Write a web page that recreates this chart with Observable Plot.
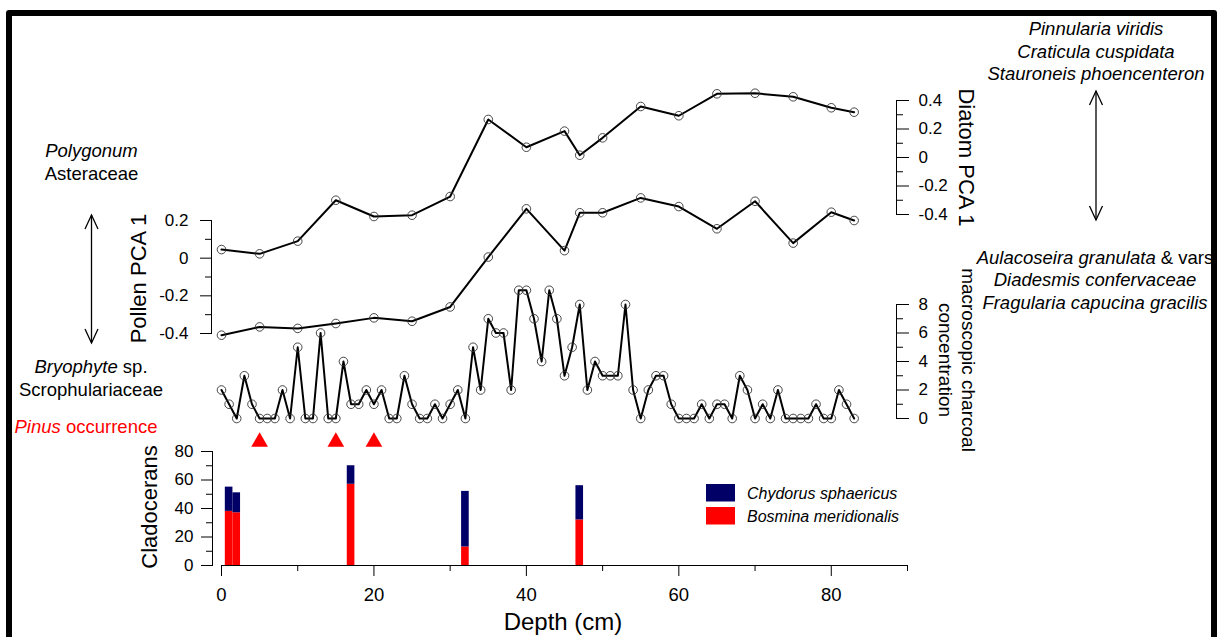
<!DOCTYPE html>
<html>
<head>
<meta charset="utf-8">
<script src="https://cdn.jsdelivr.net/npm/d3@7"></script>
<script src="https://cdn.jsdelivr.net/npm/@observablehq/plot@0.6"></script>
<style>
  html, body { margin: 0; padding: 0; background: #fff; overflow: hidden; }
  #fig { position: relative; width: 1221px; height: 637px; overflow: hidden; background: #fff;
         font-family: "Liberation Sans", Arial, sans-serif; }
  #fig > svg { position: absolute; left: 0; top: 0; max-width: none !important; }
  #border { position: absolute; left: 6px; top: 10px; width: 1211px; height: 700px;
            border: 6px solid #000; border-radius: 3px; box-sizing: border-box; }
</style>
</head>
<body>
<div id="fig"><div id="border"></div></div>
<script>
// ---------------- data ----------------
const pcaDepth   = [0, 5, 10, 15, 20, 25, 30, 35, 40, 45, 47, 50, 55, 60, 65, 70, 75, 80, 83];
const diatomPCA1 = [-0.646, -0.676, -0.587, -0.30, -0.414, -0.405, -0.274, 0.267, 0.072, 0.185, 0.016, 0.138, 0.358, 0.293, 0.447, 0.451, 0.426, 0.349, 0.318];
const pollenPCA1 = [-0.409, -0.365, -0.373, -0.347, -0.317, -0.335, -0.259, 0.006, 0.262, 0.040, 0.241, 0.241, 0.320, 0.274, 0.156, 0.302, 0.080, 0.244, 0.200];

const charcoalDepth = [0,1,2,3,4,5,6,7,8,9,10,11,12,13,14,15,16,17,18,19,20,21,22,23,24,25,26,27,28,29,30,31,32,33,34,35,36,37,38,39,40,41,42,43,44,45,46,47,48,49,50,51,52,53,54,55,56,57,58,59,60,61,62,63,64,65,66,67,68,69,70,71,72,73,74,75,76,77,78,79,80,81,82,83];
const charcoalConc  = [2,1,0,3,1,0,0,0,2,0,5,0,0,6,0,0,4,1,1,2,1,2,0,0,3,1,0,0,1,0,1,2,0,5,2,7,6,6,2,9,9,7,4,9,7,3,5,8,2,4,3,3,3,8,2,0,2,3,3,1,0,0,0,1,0,1,1,0,3,2,0,1,0,2,0,0,0,0,1,0,0,2,1,0];

const cladDepth  = [1, 2, 17, 32, 47];
const bosmina    = [38, 37, 57, 13, 32];   // Bosmina meridionalis
const chydorus   = [17, 14, 13, 39, 24];   // Chydorus sphaericus
const taxa       = ["Chydorus sphaericus", "Bosmina meridionalis"];
const taxaColors = ["#000066", "#ff0000"];

const pinusDepth = [5, 15, 20];

const xTicks          = [0, 20, 40, 60, 80];
const xMinorTicks     = [10, 30, 50, 70, 90];
const pollenTicks     = [-0.4, -0.2, 0, 0.2];
const pollenMinor     = [-0.3, -0.1, 0.1];
const diatomTicks     = [-0.4, -0.2, 0, 0.2, 0.4];
const diatomMinor     = [-0.3, -0.1, 0.1, 0.3];
const charcoalTicks   = [0, 2, 4, 6, 8];
const charcoalMinor   = [1, 3, 5, 7];
const cladTicks       = [0, 20, 40, 60, 80];
const cladMinor       = [10, 30, 50, 70];

// ---------------- layout ----------------
const W = 1221, H = 637;
const FONT = '"Liberation Sans", Arial, sans-serif';
const X = {domain: [0, 90], range: [221, 907]};
const fmt = d => d === 0 ? "0" : String(d);
const fig = document.getElementById("fig");

function panel(opts) {
  const svg = Plot.plot({
    width: W, height: H,
    marginTop: 0, marginBottom: 0, marginLeft: 0, marginRight: 0,
    style: {background: "none", fontFamily: FONT, overflow: "visible", color: "#000"},
    x: {...X, axis: null},
    ...opts
  });
  fig.appendChild(svg);
}

const seriesRows = (xs, ys) => xs.map((d, i) => ({depth: d, value: ys[i]}));
const lineMarks = rows => [
  Plot.line(rows, {x: "depth", y: "value", stroke: "#000", strokeWidth: 2}),
  Plot.dot(rows, {x: "depth", y: "value", r: 4.3, stroke: "#333", strokeWidth: 0.9, fill: "none"})
];

// Diatom PCA 1 (right axis)
panel({
  marginTop: 100, marginBottom: H - 214, marginRight: W - 896,
  y: {domain: [-0.4, 0.4]},
  marks: [
    Plot.frame({anchor: "right"}),
    Plot.axisY({anchor: "right", ticks: diatomTicks, tickSize: 12, tickPadding: 10, tickFormat: fmt, fontSize: 17, label: null}),
    Plot.axisY({anchor: "right", ticks: diatomMinor, tickSize: 6, tickFormat: () => "", label: null}),
    ...lineMarks(seriesRows(pcaDepth, diatomPCA1))
  ]
});

// Pollen PCA 1 (left axis)
panel({
  marginTop: 220, marginBottom: H - 333, marginLeft: 211,
  y: {domain: [-0.4, 0.2]},
  marks: [
    Plot.frame({anchor: "left"}),
    Plot.axisY({anchor: "left", ticks: pollenTicks, tickSize: 11, tickPadding: 12, tickFormat: fmt, fontSize: 17, label: null}),
    Plot.axisY({anchor: "left", ticks: pollenMinor, tickSize: 6, tickFormat: () => "", label: null}),
    ...lineMarks(seriesRows(pcaDepth, pollenPCA1))
  ]
});

// Charcoal (right axis)
panel({
  marginTop: 304, marginBottom: H - 418, marginRight: W - 896,
  y: {domain: [0, 8]},
  marks: [
    Plot.frame({anchor: "right"}),
    Plot.axisY({anchor: "right", ticks: charcoalTicks, tickSize: 12, tickPadding: 10, tickFormat: fmt, fontSize: 17, label: null}),
    Plot.axisY({anchor: "right", ticks: charcoalMinor, tickSize: 6, tickFormat: () => "", label: null}),
    ...lineMarks(seriesRows(charcoalDepth, charcoalConc))
  ]
});

// Pinus occurrence
panel({
  marginTop: 436, marginBottom: H - 447,
  marks: [
    Plot.dot(pinusDepth, {x: d => d, symbol: "triangle", r: 6.2, fill: "#ff0000", stroke: "none"})
  ]
});

// Cladocerans stacked bars
const cladRows = cladDepth.flatMap((d, i) => [
  {depth: d, taxon: taxa[1], y1: 0, y2: bosmina[i]},
  {depth: d, taxon: taxa[0], y1: bosmina[i], y2: bosmina[i] + chydorus[i]}
]);
panel({
  marginTop: 451, marginBottom: H - 565, marginLeft: 212,
  y: {domain: [0, 80]},
  color: {domain: taxa, range: taxaColors},
  marks: [
    Plot.rect(cladRows, {x1: d => d.depth - 0.5, x2: d => d.depth + 0.5, y1: "y1", y2: "y2", fill: "taxon"}),
    Plot.frame({anchor: "left"}),
    Plot.axisY({anchor: "left", ticks: cladTicks, tickSize: 11, tickPadding: 8, tickFormat: fmt, fontSize: 17, label: null}),
    Plot.axisY({anchor: "left", ticks: cladMinor, tickSize: 6, tickFormat: () => "", label: null})
  ]
});

// Depth axis
panel({
  marginTop: 451, marginBottom: H - 565, marginLeft: 221, marginRight: W - 907,
  x: {...X},
  marks: [
    Plot.frame({anchor: "bottom"}),
    Plot.axisX({anchor: "bottom", ticks: xTicks, tickSize: 11, tickPadding: 11, tickFormat: fmt, fontSize: 18.5, label: null}),
    Plot.axisX({anchor: "bottom", ticks: xMinorTicks, tickSize: 6, tickFormat: () => "", label: null})
  ]
});

// ---------------- annotations (text, arrows, legend) ----------------
const ann = d3.create("svg").attr("width", W).attr("height", H)
  .style("font-family", FONT).style("overflow", "visible");
fig.appendChild(ann.node());

function label(x, y, parts, opts = {}) {
  const t = ann.append("text").attr("x", x).attr("y", y)
    .attr("text-anchor", opts.anchor || "middle")
    .attr("font-size", opts.size || 18.5)
    .attr("fill", opts.fill || "#000");
  if (opts.transform) t.attr("transform", opts.transform).attr("x", 0).attr("y", 0);
  for (const p of parts) {
    const s = t.append("tspan").text(p.t);
    if (p.i) s.attr("font-style", "italic");
  }
  return t;
}

// left annotations
label(91.5, 157, [{t: "Polygonum", i: true}]);
label(91.5, 179.5, [{t: "Asteraceae"}]);
label(91, 373, [{t: "Bryophyte", i: true}, {t: " sp."}]);
label(91, 396, [{t: "Scrophulariaceae"}]);
label(86, 433, [{t: "Pinus", i: true}, {t: " occurrence"}], {fill: "#ff0000"});

// right annotations
label(1096, 35, [{t: "Pinnularia viridis", i: true}]);
label(1096, 57.5, [{t: "Craticula cuspidata", i: true}]);
label(1096, 80, [{t: "Stauroneis phoencenteron", i: true}]);
label(1095, 263.5, [{t: "Aulacoseira granulata", i: true}, {t: " & vars"}]);
label(1095, 286, [{t: "Diadesmis confervaceae", i: true}]);
label(1095, 308.5, [{t: "Fragularia capucina gracilis", i: true}]);

// axis titles
label(0, 0, [{t: "Pollen PCA 1"}], {size: 22, transform: "translate(145.5,278.5) rotate(-90)"});
label(0, 0, [{t: "Cladocerans"}], {size: 22, transform: "translate(156.5,507) rotate(-90)"});
label(0, 0, [{t: "Diatom PCA 1"}], {size: 22, transform: "translate(958.5,157.5) rotate(90)"});
label(0, 0, [{t: "macroscopic charcoal"}], {size: 19, transform: "translate(962,360) rotate(90)"});
label(0, 0, [{t: "concentration"}], {size: 19, transform: "translate(938.5,360) rotate(90)"});
label(563, 630, [{t: "Depth (cm)"}], {size: 24});

// double-headed arrows
function dArrow(x, y1, y2) {
  const g = ann.append("g").attr("stroke", "#000").attr("stroke-width", 1.3).attr("fill", "none");
  g.append("line").attr("x1", x).attr("x2", x).attr("y1", y1).attr("y2", y2);
  g.append("path").attr("d", `M${x - 6.5},${y1 + 14}L${x},${y1}L${x + 6.5},${y1 + 14}`);
  g.append("path").attr("d", `M${x - 6.5},${y2 - 14}L${x},${y2}L${x + 6.5},${y2 - 14}`);
}
dArrow(91.5, 215, 343);
dArrow(1096, 91, 220);

// cladoceran legend
taxa.forEach((name, i) => {
  ann.append("rect").attr("x", 706).attr("y", 484 + i * 23).attr("width", 29).attr("height", 17.5)
    .attr("fill", taxaColors[i]);
  label(747, 498.5 + i * 23, [{t: name, i: true}], {anchor: "start", size: 16});
});
</script>
</body>
</html>
